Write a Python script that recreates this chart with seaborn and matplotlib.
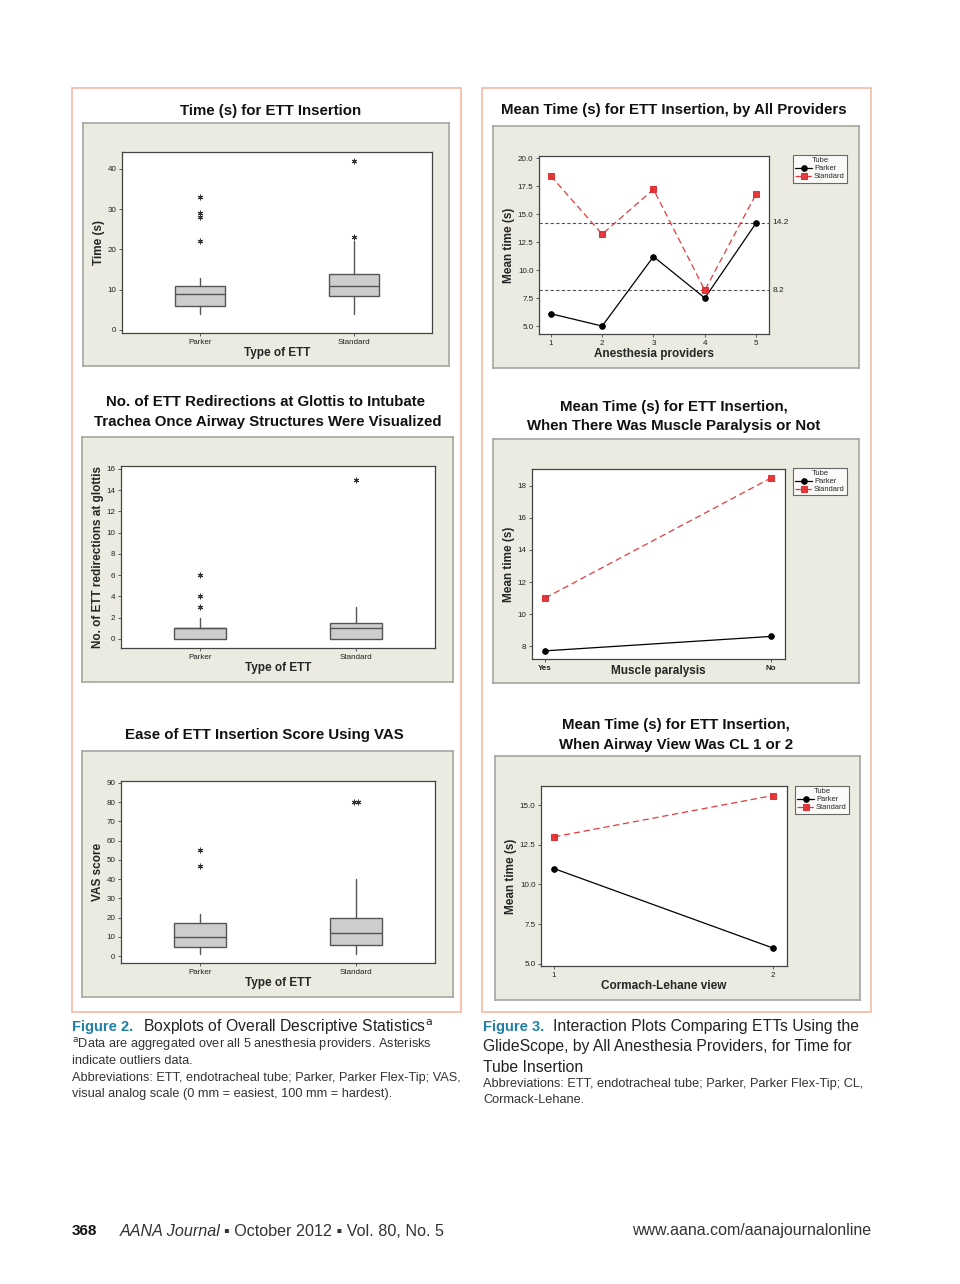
import numpy as np
import pandas as pd
import matplotlib
import matplotlib.pyplot as plt
import seaborn as sns
from matplotlib.patches import Rectangle

matplotlib.use('Agg')
sns.set_style('white')
plt.rcParams['font.family'] = ['Liberation Sans', 'DejaVu Sans']

# ---------------------------------------------------------------------------
# data
# ---------------------------------------------------------------------------
ett_types = ['Parker', 'Standard']

# boxplot summaries: q1, median, q3, whisker low, whisker high, outliers
time_q1 = [6, 8.5]
time_med = [9, 11]
time_q3 = [11, 14]
time_lo = [4, 4]
time_hi = [13, 22]
time_out = [[22, 28, 29, 33], [23, 42]]

redir_q1 = [0, 0]
redir_med = [1, 1]
redir_q3 = [1, 1.5]
redir_lo = [0, 0]
redir_hi = [2, 3]
redir_out = [[3, 4, 6], [15]]

vas_q1 = [4.5, 5.5]
vas_med = [10, 12]
vas_q3 = [17, 20]
vas_lo = [1, 1]
vas_hi = [22, 40]
vas_out = [[47, 55], [80, 80]]

providers = [1, 2, 3, 4, 5]
prov_parker = [6.1, 5.0, 11.2, 7.5, 14.2]
prov_standard = [18.4, 13.2, 17.2, 8.2, 16.8]
prov_ref = [14.2, 8.2]

paralysis = ['Yes', 'No']
par_parker = [7.7, 8.6]
par_standard = [11.0, 18.5]

cl_view = [1, 2]
cl_parker = [11.0, 6.0]
cl_standard = [13.0, 15.6]

W, H = 960, 1284
BEIGE = '#ecebe1'
ORANGE = '#f3b9a3'
RED = '#e0262b'
TEAL = '#1f7fa6'

fig = plt.figure(figsize=(W / 100, H / 100), dpi=100)
fig.patch.set_facecolor('white')


def px(l, t, r, b):
    return [l / W, 1 - b / H, (r - l) / W, (b - t) / H]


def fx(x):
    return x / W


def fy(y):
    return 1 - y / H


def frame(l, t, r, b):
    fr = fig.add_axes(px(l, t, r, b), zorder=0)
    fr.set_facecolor(BEIGE)
    fr.set_xticks([])
    fr.set_yticks([])
    for s in fr.spines.values():
        s.set_color('#a6a6a0')
        s.set_linewidth(1.2)


def style_axes(ax):
    for s in ax.spines.values():
        s.set_color('#444444')
        s.set_linewidth(0.9)
    ax.tick_params(axis='both', which='both', length=2.5, width=0.6,
                   labelsize=5.8, pad=1.5, color='#444444',
                   bottom=True, left=True, labelcolor='#222222')
    ax.set_facecolor('white')


def draw_box(ax, q1, med, q3, lo, hi, out):
    stats = []
    for i in range(len(ett_types)):
        stats.append(dict(q1=q1[i], med=med[i], q3=q3[i], whislo=lo[i],
                          whishi=hi[i], fliers=[], label=ett_types[i]))
    ax.bxp(stats, positions=[1, 2], widths=0.33, patch_artist=True,
           showcaps=False,
           boxprops=dict(facecolor='#cdcdcd', edgecolor='#555555', linewidth=1.0),
           medianprops=dict(color='#555555', linewidth=1.0),
           whiskerprops=dict(color='#555555', linewidth=1.0))
    # outliers as asterisks, tied values set side by side like Minitab does
    for i, vals in enumerate(out):
        vals = np.asarray(vals, dtype=float)
        for v in np.unique(vals):
            n = int((vals == v).sum())
            offs = (np.arange(n) - (n - 1) / 2) * 0.025
            ax.plot(i + 1 + offs, [v] * n, linestyle='none', marker=(6, 2, 0),
                    markersize=4, markeredgecolor='#333333', markeredgewidth=0.7)
    ax.set_xlim(0.494, 2.506)
    ax.set_xlabel('Type of ETT', fontsize=8.5, fontweight='bold', labelpad=1)
    style_axes(ax)


def draw_lines(ax, x, parker, standard):
    sns.lineplot(x=x, y=parker, ax=ax, color='black', marker='o', markersize=4,
                 markeredgecolor='black', linewidth=0.9, label='Parker')
    sns.lineplot(x=x, y=standard, ax=ax, color=RED, marker='s', markersize=3.8,
                 markeredgecolor=RED, linewidth=0.9, linestyle=(0, (5, 3)),
                 label='Standard', alpha=0.9)
    ax.set_ylabel('Mean time (s)', fontsize=8.5, fontweight='bold', labelpad=2)
    style_axes(ax)


def tube_legend(ax, x, y):
    leg = ax.legend(title='Tube', loc='upper left', bbox_to_anchor=(fx(x), fy(y)),
                    bbox_transform=fig.transFigure, fontsize=5.4, title_fontsize=5.4,
                    frameon=True, fancybox=False, edgecolor='#444444',
                    handlelength=2.2, handletextpad=0.3, borderpad=0.3,
                    labelspacing=0.1, borderaxespad=0)
    leg.get_frame().set_linewidth(0.8)
    leg.get_frame().set_facecolor('white')


# ---------------------------------------------------------------------------
# outer orange borders
# ---------------------------------------------------------------------------
for l, r in [(72, 461), (482, 871)]:
    fig.patches.append(Rectangle((fx(l), fy(1012)), (r - l) / W, (1012 - 88) / H,
                                 transform=fig.transFigure, fill=False,
                                 edgecolor=ORANGE, linewidth=1.2))

title_kw = dict(fontsize=10.8, fontweight='bold', ha='center', va='center', color='#111111')

# ---------------------------------------------------------------------------
# left column: boxplots
# ---------------------------------------------------------------------------
fig.text(fx(271), fy(111), 'Time (s) for ETT Insertion', **title_kw)
frame(83, 123, 449, 366)
ax1 = fig.add_axes(px(122, 152, 432, 333), zorder=1)
draw_box(ax1, time_q1, time_med, time_q3, time_lo, time_hi, time_out)
ax1.set_ylim(-0.75, 44.2)
ax1.set_yticks([0, 10, 20, 30, 40])
ax1.set_ylabel('Time (s)', fontsize=8.5, fontweight='bold', labelpad=2)

fig.text(fx(266), fy(402), 'No. of ETT Redirections at Glottis to Intubate', **title_kw)
fig.text(fx(268), fy(422), 'Trachea Once Airway Structures Were Visualized', **title_kw)
frame(82, 437, 453, 682)
ax3 = fig.add_axes(px(121, 466, 435, 648), zorder=1)
draw_box(ax3, redir_q1, redir_med, redir_q3, redir_lo, redir_hi, redir_out)
ax3.set_ylim(-0.85, 16.28)
ax3.set_yticks(np.arange(0, 17, 2))
ax3.set_ylabel('No. of ETT redirections at glottis', fontsize=8.5, fontweight='bold', labelpad=2)

fig.text(fx(264), fy(735), 'Ease of ETT Insertion Score Using VAS', **title_kw)
frame(82, 751, 453, 997)
ax5 = fig.add_axes(px(121, 781, 435, 963), zorder=1)
draw_box(ax5, vas_q1, vas_med, vas_q3, vas_lo, vas_hi, vas_out)
ax5.set_ylim(-3.6, 91.0)
ax5.set_yticks(np.arange(0, 91, 10))
ax5.set_ylabel('VAS score', fontsize=8.5, fontweight='bold', labelpad=2)

# ---------------------------------------------------------------------------
# right column: interaction plots
# ---------------------------------------------------------------------------
fig.text(fx(674), fy(110), 'Mean Time (s) for ETT Insertion, by All Providers', **title_kw)
frame(493, 126, 859, 368)
ax2 = fig.add_axes(px(539, 156, 769, 334), zorder=1)
draw_lines(ax2, providers, prov_parker, prov_standard)
for v in prov_ref:
    ax2.axhline(v, color='#555555', linestyle=(0, (3, 2)), linewidth=0.8, zorder=0)
    ax2.text(1.015, v, f'{v:.1f}', transform=ax2.get_yaxis_transform(),
             fontsize=6, va='center', ha='left', color='#222222')
ax2.set_xlim(0.77, 5.25)
ax2.set_ylim(4.29, 20.18)
ax2.set_xticks(providers)
ax2.set_yticks([5.0, 7.5, 10.0, 12.5, 15.0, 17.5, 20.0])
ax2.set_yticklabels([f'{t:.1f}' for t in [5.0, 7.5, 10.0, 12.5, 15.0, 17.5, 20.0]])
ax2.set_xlabel('Anesthesia providers', fontsize=8.5, fontweight='bold', labelpad=1)
tube_legend(ax2, 793, 155)

fig.text(fx(674), fy(407), 'Mean Time (s) for ETT Insertion,', **title_kw)
fig.text(fx(674), fy(426), 'When There Was Muscle Paralysis or Not', **title_kw)
frame(493, 439, 859, 683)
ax4 = fig.add_axes(px(532, 469, 785, 659), zorder=1)
par_pos = np.arange(len(paralysis))
draw_lines(ax4, par_pos, par_parker, par_standard)
ax4.set_xlim(-0.058, 1.062)
ax4.set_ylim(7.19, 19.06)
ax4.set_xticks(par_pos)
ax4.set_xticklabels(paralysis, fontweight='bold')
ax4.set_yticks(np.arange(8, 19, 2))
ax4.set_xlabel('Muscle paralysis', fontsize=8.5, fontweight='bold', labelpad=-5)
tube_legend(ax4, 793, 468)

fig.text(fx(676), fy(725), 'Mean Time (s) for ETT Insertion,', **title_kw)
fig.text(fx(676), fy(745), 'When Airway View Was CL 1 or 2', **title_kw)
frame(495, 756, 860, 1000)
ax6 = fig.add_axes(px(541, 786, 787, 966), zorder=1)
draw_lines(ax6, cl_view, cl_parker, cl_standard)
ax6.set_xlim(0.94, 2.064)
ax6.set_ylim(4.87, 16.2)
ax6.set_xticks(cl_view)
ax6.set_yticks([5.0, 7.5, 10.0, 12.5, 15.0])
ax6.set_yticklabels([f'{t:.1f}' for t in [5.0, 7.5, 10.0, 12.5, 15.0]])
ax6.set_xlabel('Cormach-Lehane view', fontsize=8.5, fontweight='bold', labelpad=1)
tube_legend(ax6, 795, 786)

# ---------------------------------------------------------------------------
# captions and footer
# ---------------------------------------------------------------------------
cap_kw = dict(fontsize=11.3, va='center', ha='left', color='#222222')
small_kw = dict(fontsize=9.2, va='center', ha='left', color='#333333')

fig.text(fx(72), fy(1027), 'Figure 2.', fontweight='bold', color=TEAL, fontsize=10.5, va='center')
fig.text(fx(143), fy(1027), 'Boxplots of Overall Descriptive Statistics$^{\\mathrm{a}}$', **cap_kw)
fig.text(fx(72), fy(1045), '$^{\\mathrm{a}}$Data are aggregated over all 5 anesthesia providers. Asterisks', **small_kw)
fig.text(fx(72), fy(1061), 'indicate outliers data.', **small_kw)
fig.text(fx(72), fy(1078), 'Abbreviations: ETT, endotracheal tube; Parker, Parker Flex-Tip; VAS,', **small_kw)
fig.text(fx(72), fy(1094), 'visual analog scale (0 mm = easiest, 100 mm = hardest).', **small_kw)

fig.text(fx(483), fy(1027), 'Figure 3.', fontweight='bold', color=TEAL, fontsize=10.5, va='center')
fig.text(fx(553), fy(1027), 'Interaction Plots Comparing ETTs Using the', **cap_kw)
fig.text(fx(483), fy(1047), 'GlideScope, by All Anesthesia Providers, for Time for', **cap_kw)
fig.text(fx(483), fy(1067), 'Tube Insertion', **cap_kw)
fig.text(fx(483), fy(1084), 'Abbreviations: ETT, endotracheal tube; Parker, Parker Flex-Tip; CL,', **small_kw)
fig.text(fx(483), fy(1100), 'Cormack-Lehane.', **small_kw)

fig.text(fx(72), fy(1231), '368', fontweight='bold', fontsize=11, va='center', color='#111111')
fig.text(fx(120), fy(1231), 'AANA Journal', fontstyle='italic', fontsize=11.6, va='center', color='#333333')
fig.text(fx(224), fy(1231), '\u25aa October 2012 \u25aa Vol. 80, No. 5', fontsize=11.6, va='center', color='#333333')
fig.text(fx(871), fy(1231), 'www.aana.com/aanajournalonline', fontsize=11.5, va='center', ha='right', color='#333333')

fig.savefig('out.png', dpi=100)
